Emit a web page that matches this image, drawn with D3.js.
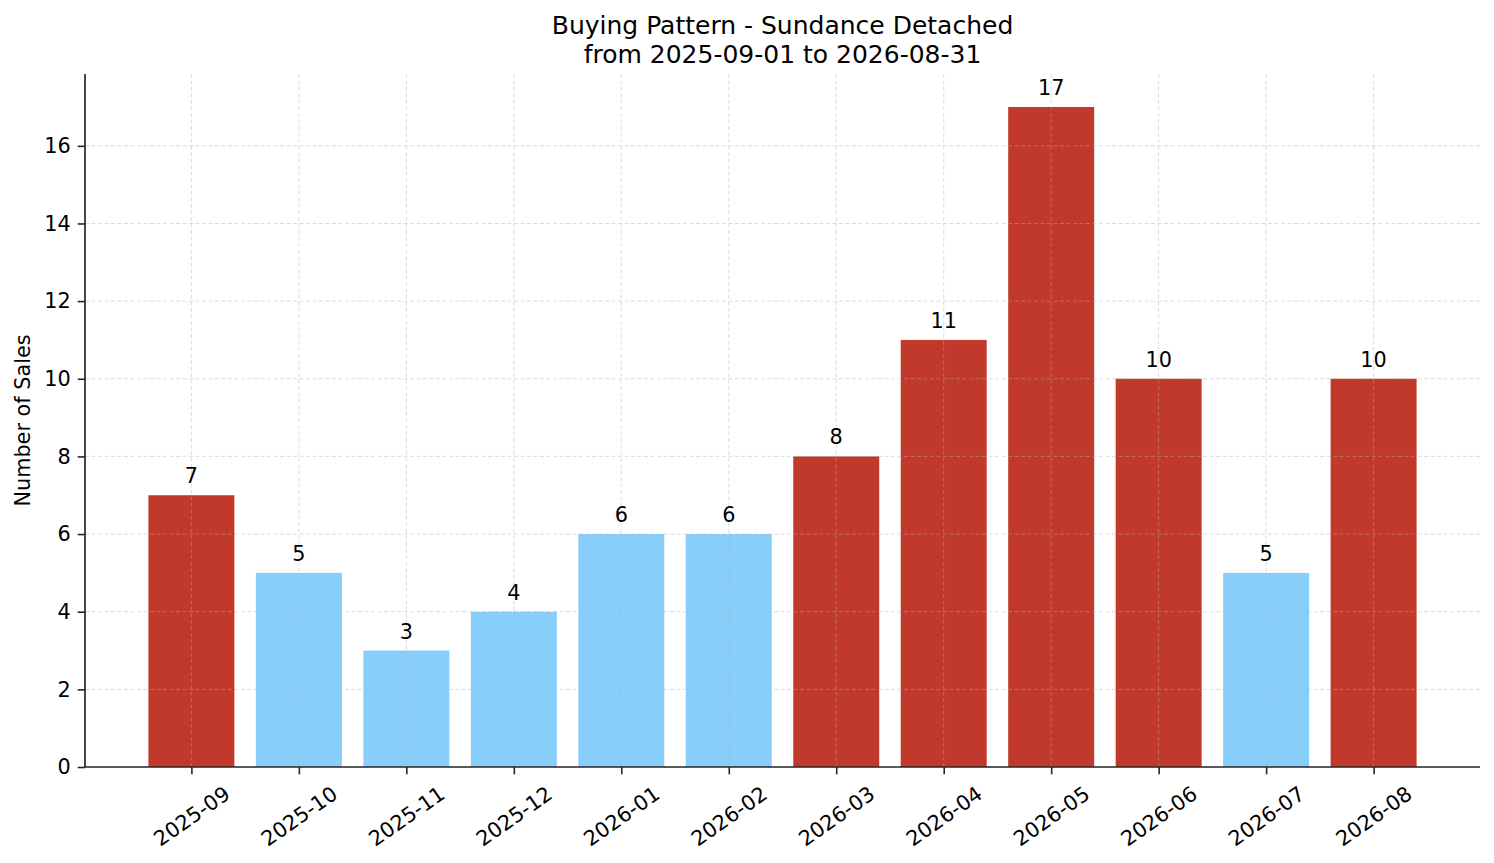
<!DOCTYPE html>
<html>
<head>
<meta charset="utf-8">
<script src="https://cdn.jsdelivr.net/npm/d3@7"></script>
<style>
  html, body { margin: 0; padding: 0; background: #fff; }
  svg { display: block; font-family: "DejaVu Sans", sans-serif; }
</style>
</head>
<body>
<svg id="chart" width="1494" height="863"></svg>
<script>
// ---- data ----
const months = ["2025-09","2025-10","2025-11","2025-12","2026-01","2026-02","2026-03","2026-04","2026-05","2026-06","2026-07","2026-08"];
const sales = [7, 5, 3, 4, 6, 6, 8, 11, 17, 10, 5, 10];
const yTicks = [0, 2, 4, 6, 8, 10, 12, 14, 16];
const titleLines = ["Buying Pattern - Sundance Detached", "from 2025-09-01 to 2026-08-31"];
const yLabel = "Number of Sales";

const highColor = "#c0392b", lowColor = "#87cefa";
const med = d3.median(sales);

const W = 1494, H = 863;
const m = { left: 85, right: 1480, top: 74, bottom: 767 };
const svg = d3.select("#chart");

const idx = months.map((_, i) => i);
const x = d3.scaleLinear().domain([-0.99, months.length - 1 + 0.99]).range([m.left, m.right]);
const bw = x(0.4) - x(-0.4);
const yMax = d3.max(sales) * 1.05;
const y = d3.scaleLinear().domain([0, yMax]).range([m.bottom, m.top]);

// bars
svg.append("g").selectAll("rect").data(idx).join("rect")
  .attr("x", i => x(i) - bw / 2)
  .attr("width", bw)
  .attr("y", i => y(sales[i]))
  .attr("height", i => y(0) - y(sales[i]))
  .attr("fill", i => sales[i] > med ? highColor : lowColor);

// grid (drawn over bars)
const grid = svg.append("g").attr("stroke", "#b0b0b0").attr("stroke-opacity", 0.55)
  .attr("stroke-width", 0.8).attr("stroke-dasharray", "4,2.5");
grid.selectAll("line.gy").data(yTicks).join("line").attr("class", "gy")
  .attr("x1", m.left).attr("x2", m.right)
  .attr("y1", d => y(d)).attr("y2", d => y(d));
grid.selectAll("line.gx").data(idx).join("line").attr("class", "gx")
  .attr("x1", i => x(i)).attr("x2", i => x(i))
  .attr("y1", m.top).attr("y2", m.bottom);

// value labels
svg.append("g").selectAll("text").data(idx).join("text")
  .attr("x", i => x(i))
  .attr("y", i => y(sales[i]) - 12)
  .attr("text-anchor", "middle")
  .attr("font-size", "20.8px")
  .attr("fill", "#000")
  .text(i => sales[i]);

// axes
const axisColor = "#262626";
const yAxis = d3.axisLeft(y).tickValues(yTicks).tickSize(7.3).tickPadding(7);
const gy = svg.append("g").attr("transform", `translate(${m.left},0)`).call(yAxis);
gy.select(".domain").attr("stroke", axisColor).attr("stroke-width", 1.7)
  .attr("d", `M0,${m.top}V${m.bottom}`);
gy.selectAll(".tick line").attr("stroke", axisColor).attr("stroke-width", 1.6);
gy.selectAll(".tick text").attr("font-size", "20.8px").attr("fill", "#000")
  .attr("font-family", "DejaVu Sans, sans-serif");

const xAxis = d3.axisBottom(x).tickValues(idx).tickFormat(i => months[i]).tickSize(7.3);
const gx = svg.append("g").attr("transform", `translate(0,${m.bottom})`).call(xAxis);
gx.select(".domain").attr("stroke", axisColor).attr("stroke-width", 1.7)
  .attr("d", `M${m.left},0H${m.right}`);
gx.selectAll(".tick line").attr("stroke", axisColor).attr("stroke-width", 1.6);
const ang = 35 * Math.PI / 180;
gx.selectAll(".tick text")
  .attr("font-size", "20.8px").attr("fill", "#000")
  .attr("font-family", "DejaVu Sans, sans-serif")
  .attr("dy", null)
  .attr("text-anchor", "middle")
  .attr("dominant-baseline", "central")
  .each(function () {
    const t = d3.select(this);
    const w = this.getComputedTextLength();
    const h = 20.8 * 1.164;
    const bh = w * Math.sin(ang) + h * Math.cos(ang);
    const cy = 7.3 + 7.3 + bh / 2;
    t.attr("y", 0).attr("transform", `translate(0,${cy}) rotate(-35)`);
  });

// y label
svg.append("text")
  .attr("transform", `translate(30,${(m.top + m.bottom) / 2}) rotate(-90)`)
  .attr("text-anchor", "middle")
  .attr("font-size", "20.8px")
  .attr("fill", "#000")
  .text(yLabel);

// title
svg.append("g").selectAll("text").data(titleLines).join("text")
  .attr("x", (m.left + m.right) / 2)
  .attr("y", (d, i) => 34 + i * 29)
  .attr("text-anchor", "middle")
  .attr("font-size", "25px")
  .attr("fill", "#000")
  .text(d => d);
</script>
</body>
</html>
